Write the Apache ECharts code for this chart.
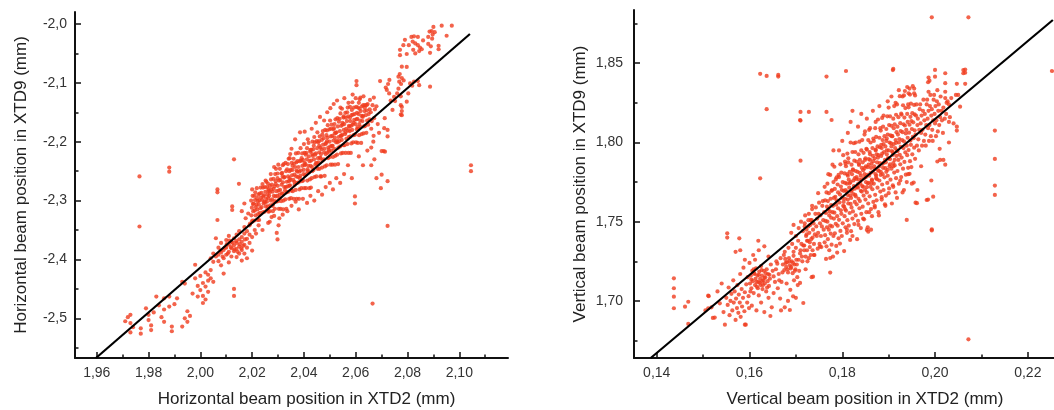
<!DOCTYPE html>
<html><head><meta charset="utf-8">
<script src="https://cdn.jsdelivr.net/npm/echarts@6/dist/echarts.min.js"></script>
<style>html,body{margin:0;padding:0;background:#fff}#c{width:1054px;height:410px}</style>
</head><body><div id="c"></div>
<script>
// ---------- tick values ----------
const hxMajor=[1.96,1.98,2.00,2.02,2.04,2.06,2.08,2.10];
const hxMinor=[1.97,1.99,2.01,2.03,2.05,2.07,2.09,2.11];
const hyMajor=[-2.5,-2.4,-2.3,-2.2,-2.1,-2.0];
const hyMinor=[-2.55,-2.45,-2.35,-2.25,-2.15,-2.05];
const vxMajor=[0.14,0.16,0.18,0.20,0.22];
const vxMinor=[0.15,0.17,0.19,0.21,0.23];
const vyMajor=[1.70,1.75,1.80,1.85];
const vyMinor=[1.675,1.725,1.775,1.825,1.875];

// ---------- fitted lines ----------
const hFit=[[1.9597,-2.5674],[2.1041,-2.017]];
const vFit=[[0.1387,1.664],[0.2254,1.8773]];

// ---------- horizontal panel points ----------
const hOutliers=[[1.9765,-2.259],[1.9765,-2.344],[1.988,-2.244],[1.988,-2.251],[2.1045,-2.240],[2.1045,-2.250],[2.0665,-2.475],[2.0723,-2.343],[2.0694,-2.097]];
const hTail=[[1.971,-2.505],[1.972,-2.498],[1.973,-2.494],[1.973,-2.508],[1.973,-2.524],[1.974,-2.515],[1.977,-2.517],[1.977,-2.526],[1.979,-2.483],[1.980,-2.494],[1.980,-2.503],[1.981,-2.520],[1.981,-2.512],[1.982,-2.490],[1.983,-2.463],[1.984,-2.478],[1.985,-2.498],[1.986,-2.466],[1.986,-2.485],[1.986,-2.506],[1.988,-2.463],[1.988,-2.480],[1.989,-2.514],[1.989,-2.522],[1.990,-2.476],[1.991,-2.466],[1.993,-2.438],[1.993,-2.514],[1.994,-2.441],[1.994,-2.500],[1.995,-2.488],[1.995,-2.506],[1.996,-2.496],[1.997,-2.458],[1.998,-2.409],[1.998,-2.432],[1.999,-2.463],[1.999,-2.445],[2.000,-2.428],[2.000,-2.452],[2.001,-2.474],[2.001,-2.440],[2.001,-2.462],[2.002,-2.446],[2.002,-2.468],[2.002,-2.422],[2.003,-2.426],[2.003,-2.436],[2.003,-2.455],[2.004,-2.398],[2.004,-2.432],[2.004,-2.418],[2.005,-2.438],[2.005,-2.390],[2.005,-2.404],[2.006,-2.364],[2.0066,-2.333],[2.006,-2.395],[2.007,-2.380],[2.007,-2.392],[2.007,-2.403],[2.008,-2.372],[2.008,-2.388],[2.008,-2.410],[2.009,-2.424],[2.009,-2.384],[2.009,-2.398],[2.010,-2.367],[2.010,-2.380],[2.010,-2.392],[2.011,-2.360],[2.011,-2.375],[2.011,-2.387],[2.011,-2.405],[2.012,-2.370],[2.012,-2.381],[2.012,-2.395],[2.013,-2.364],[2.013,-2.376],[2.013,-2.386],[2.013,-2.450],[2.013,-2.462],[2.014,-2.358],[2.014,-2.372],[2.014,-2.382],[2.014,-2.396],[2.015,-2.366],[2.015,-2.378],[2.015,-2.390],[2.015,-2.352],[2.016,-2.370],[2.016,-2.384],[2.016,-2.362],[2.016,-2.402],[2.017,-2.356],[2.017,-2.375],[2.017,-2.390],[2.017,-2.345],[2.018,-2.365],[2.018,-2.380],[2.018,-2.398],[2.018,-2.352],[2.019,-2.358],[2.019,-2.372],[2.019,-2.342],[2.020,-2.362],[2.020,-2.385],[2.020,-2.336],[2.021,-2.350],[2.0225,-2.342],[2.024,-2.350],[2.0262,-2.338],[2.0295,-2.355],[2.0298,-2.366],[2.0275,-2.328],[2.0215,-2.356],[2.016,-2.318],[2.0175,-2.330],[2.0185,-2.322],[2.0192,-2.339],[2.017,-2.305],[2.0123,-2.310],[2.0123,-2.316],[2.0149,-2.2715],[2.0066,-2.281],[2.0066,-2.286],[2.013,-2.230],
[2.0112,-2.368],[2.0118,-2.379],[2.0125,-2.372],[2.0132,-2.383],[2.0138,-2.369],[2.0144,-2.387],[2.0152,-2.374],[2.0158,-2.381],[2.0165,-2.377],[2.0172,-2.366],[2.0106,-2.390],[2.0102,-2.374],[2.0094,-2.380],[2.0086,-2.395],[2.0078,-2.385]];
const hCore=[
[2.0201,-2.334],[2.0197,-2.325],[2.0204,-2.318],[2.0199,-2.312],[2.0203,-2.306],[2.0196,-2.300],[2.0202,-2.292],[2.0200,-2.281],
[2.0208,-2.334],[2.0213,-2.325],[2.0210,-2.317],[2.0214,-2.311],[2.0206,-2.305],[2.0211,-2.299],[2.0209,-2.292],[2.0212,-2.286],
[2.0223,-2.323],[2.0220,-2.315],[2.0217,-2.307],[2.0222,-2.301],[2.0219,-2.296],[2.0224,-2.290],[2.0218,-2.279],[2.0221,-2.333],
[2.0230,-2.321],[2.0232,-2.313],[2.0226,-2.307],[2.0228,-2.300],[2.0234,-2.295],[2.0229,-2.288],[2.0233,-2.278],[2.0227,-2.333],
[2.0241,-2.320],[2.0237,-2.311],[2.0244,-2.305],[2.0239,-2.299],[2.0243,-2.293],[2.0236,-2.287],[2.0242,-2.278],[2.0240,-2.272],
[2.0248,-2.319],[2.0253,-2.310],[2.0250,-2.303],[2.0254,-2.297],[2.0246,-2.291],[2.0251,-2.285],[2.0249,-2.277],[2.0252,-2.266],
[2.0263,-2.319],[2.0260,-2.310],[2.0257,-2.302],[2.0262,-2.296],[2.0259,-2.290],[2.0264,-2.284],[2.0258,-2.277],[2.0261,-2.271],
[2.0270,-2.308],[2.0272,-2.300],[2.0266,-2.292],[2.0268,-2.286],[2.0274,-2.281],[2.0269,-2.275],[2.0273,-2.264],[2.0267,-2.318],
[2.0281,-2.306],[2.0277,-2.298],[2.0284,-2.292],[2.0279,-2.285],[2.0283,-2.280],[2.0276,-2.273],[2.0282,-2.263],[2.0280,-2.318],
[2.0288,-2.314],[2.0293,-2.302],[2.0290,-2.293],[2.0294,-2.284],[2.0286,-2.276],[2.0291,-2.267],[2.0289,-2.255],[2.0292,-2.246],
[2.0303,-2.314],[2.0300,-2.301],[2.0297,-2.292],[2.0302,-2.283],[2.0299,-2.275],[2.0304,-2.266],[2.0298,-2.254],[2.0301,-2.239],
[2.0310,-2.314],[2.0312,-2.301],[2.0306,-2.290],[2.0308,-2.282],[2.0314,-2.273],[2.0309,-2.265],[2.0313,-2.254],[2.0307,-2.246],
[2.0321,-2.300],[2.0317,-2.288],[2.0324,-2.277],[2.0319,-2.269],[2.0323,-2.261],[2.0316,-2.253],[2.0322,-2.238],[2.0320,-2.315],
[2.0328,-2.298],[2.0333,-2.286],[2.0330,-2.277],[2.0334,-2.268],[2.0326,-2.260],[2.0331,-2.250],[2.0329,-2.236],[2.0332,-2.314],
[2.0343,-2.297],[2.0340,-2.285],[2.0337,-2.276],[2.0342,-2.267],[2.0339,-2.259],[2.0344,-2.250],[2.0338,-2.238],[2.0341,-2.229],
[2.0350,-2.296],[2.0352,-2.283],[2.0346,-2.274],[2.0348,-2.265],[2.0354,-2.257],[2.0349,-2.248],[2.0353,-2.236],[2.0347,-2.221],
[2.0361,-2.297],[2.0357,-2.284],[2.0364,-2.273],[2.0359,-2.265],[2.0363,-2.256],[2.0356,-2.248],[2.0362,-2.237],[2.0360,-2.229],
[2.0368,-2.282],[2.0373,-2.270],[2.0370,-2.259],[2.0374,-2.251],[2.0366,-2.243],[2.0371,-2.235],[2.0369,-2.220],[2.0372,-2.297],
[2.0383,-2.281],[2.0380,-2.269],[2.0377,-2.260],[2.0382,-2.251],[2.0379,-2.243],[2.0384,-2.233],[2.0378,-2.219],[2.0381,-2.297],
[2.0390,-2.279],[2.0392,-2.267],[2.0386,-2.258],[2.0388,-2.249],[2.0394,-2.241],[2.0389,-2.232],[2.0393,-2.220],[2.0387,-2.211],
[2.0401,-2.279],[2.0397,-2.266],[2.0404,-2.257],[2.0399,-2.248],[2.0403,-2.240],[2.0396,-2.231],[2.0402,-2.219],[2.0400,-2.204],
[2.0408,-2.279],[2.0413,-2.266],[2.0410,-2.255],[2.0414,-2.247],[2.0406,-2.238],[2.0411,-2.230],[2.0409,-2.219],[2.0412,-2.211],
[2.0423,-2.264],[2.0420,-2.252],[2.0417,-2.241],[2.0422,-2.233],[2.0419,-2.225],[2.0424,-2.217],[2.0418,-2.202],[2.0421,-2.279],
[2.0430,-2.262],[2.0432,-2.250],[2.0426,-2.241],[2.0428,-2.232],[2.0434,-2.224],[2.0429,-2.214],[2.0433,-2.200],[2.0427,-2.278],
[2.0441,-2.260],[2.0437,-2.248],[2.0444,-2.239],[2.0439,-2.230],[2.0443,-2.222],[2.0436,-2.213],[2.0442,-2.201],[2.0440,-2.192],
[2.0448,-2.259],[2.0453,-2.246],[2.0450,-2.237],[2.0454,-2.228],[2.0446,-2.220],[2.0451,-2.211],[2.0449,-2.199],[2.0452,-2.184],
[2.0463,-2.259],[2.0460,-2.246],[2.0457,-2.235],[2.0462,-2.227],[2.0459,-2.218],[2.0464,-2.210],[2.0458,-2.199],[2.0461,-2.191],
[2.0470,-2.244],[2.0472,-2.232],[2.0466,-2.221],[2.0468,-2.213],[2.0474,-2.205],[2.0469,-2.197],[2.0473,-2.182],[2.0467,-2.259],
[2.0481,-2.242],[2.0477,-2.230],[2.0484,-2.221],[2.0479,-2.212],[2.0483,-2.204],[2.0476,-2.194],[2.0482,-2.180],[2.0480,-2.258],
[2.0488,-2.240],[2.0493,-2.228],[2.0490,-2.219],[2.0494,-2.210],[2.0486,-2.202],[2.0491,-2.193],[2.0489,-2.181],[2.0492,-2.172],
[2.0503,-2.239],[2.0500,-2.226],[2.0497,-2.217],[2.0502,-2.208],[2.0499,-2.200],[2.0504,-2.191],[2.0498,-2.179],[2.0501,-2.164],
[2.0510,-2.239],[2.0512,-2.226],[2.0506,-2.215],[2.0508,-2.207],[2.0514,-2.198],[2.0509,-2.190],[2.0513,-2.179],[2.0507,-2.171],
[2.0521,-2.224],[2.0517,-2.212],[2.0524,-2.201],[2.0519,-2.193],[2.0523,-2.185],[2.0516,-2.177],[2.0522,-2.162],[2.0520,-2.239],
[2.0528,-2.222],[2.0533,-2.210],[2.0530,-2.201],[2.0534,-2.192],[2.0526,-2.184],[2.0531,-2.174],[2.0529,-2.160],[2.0532,-2.238],
[2.0543,-2.220],[2.0540,-2.208],[2.0537,-2.199],[2.0542,-2.190],[2.0539,-2.182],[2.0544,-2.173],[2.0538,-2.161],[2.0541,-2.152],
[2.0550,-2.219],[2.0552,-2.206],[2.0546,-2.197],[2.0548,-2.188],[2.0554,-2.180],[2.0549,-2.171],[2.0553,-2.159],[2.0547,-2.144],
[2.0561,-2.219],[2.0557,-2.206],[2.0564,-2.195],[2.0559,-2.187],[2.0563,-2.178],[2.0556,-2.170],[2.0562,-2.159],[2.0560,-2.151],
[2.0568,-2.204],[2.0573,-2.192],[2.0570,-2.181],[2.0574,-2.173],[2.0566,-2.165],[2.0571,-2.157],[2.0569,-2.142],[2.0572,-2.219],
[2.0583,-2.203],[2.0580,-2.191],[2.0577,-2.182],[2.0582,-2.173],[2.0579,-2.165],[2.0584,-2.155],[2.0578,-2.141],[2.0581,-2.219],
[2.0590,-2.201],[2.0592,-2.189],[2.0586,-2.180],[2.0588,-2.171],[2.0594,-2.163],[2.0589,-2.154],[2.0593,-2.142],[2.0587,-2.133],
[2.0601,-2.201],[2.0597,-2.188],[2.0604,-2.179],[2.0599,-2.170],[2.0603,-2.162],[2.0596,-2.153],[2.0602,-2.141],[2.0600,-2.126],
[2.0608,-2.202],[2.0613,-2.189],[2.0610,-2.178],[2.0614,-2.170],[2.0606,-2.161],[2.0611,-2.153],[2.0609,-2.142],[2.0612,-2.134],
[2.0623,-2.187],[2.0620,-2.175],[2.0617,-2.164],[2.0622,-2.156],[2.0619,-2.148],[2.0624,-2.140],[2.0618,-2.125],[2.0621,-2.202],
[2.0630,-2.186],[2.0632,-2.174],[2.0626,-2.165],[2.0628,-2.156],[2.0634,-2.148],[2.0629,-2.138],
[2.0641,-2.185],[2.0637,-2.173],[2.0644,-2.164],[2.0639,-2.155],[2.0643,-2.147],[2.0636,-2.138],
[2.0648,-2.171],[2.0653,-2.162],[2.0650,-2.153],[2.0654,-2.145],[2.0646,-2.136],
[2.0662,-2.165],[2.0658,-2.150],[2.0665,-2.138],[2.0660,-2.178],
[2.0671,-2.160],[2.0674,-2.145],[2.0669,-2.190]];
const hCoreExtra=[[2.0247,-2.302],[2.0263,-2.281],[2.0279,-2.309],[2.0291,-2.272],[2.0306,-2.296],[2.0318,-2.259],[2.0327,-2.283],[2.0335,-2.247],[2.0344,-2.275],[2.0356,-2.241],[2.0363,-2.268],[2.0375,-2.233],[2.0384,-2.262],[2.0391,-2.228],[2.0398,-2.255],[2.0407,-2.222],[2.0415,-2.250],[2.0425,-2.214],[2.0431,-2.243],[2.0438,-2.207],[2.0447,-2.236],[2.0455,-2.201],[2.0464,-2.228],[2.0471,-2.188],[2.0478,-2.218],[2.0487,-2.189],[2.0495,-2.214],[2.0504,-2.178],[2.0511,-2.207],[2.0518,-2.170],[2.0527,-2.198],[2.0535,-2.166],[2.0545,-2.190],[2.0553,-2.157],[2.0561,-2.184],[2.0567,-2.150],[2.0575,-2.175],[2.0585,-2.146],[2.0592,-2.168],[2.0605,-2.151],[2.0615,-2.144],[2.0627,-2.158],[2.0635,-2.142],[2.0258,-2.316],[2.0287,-2.301],[2.0315,-2.288],[2.0345,-2.262],[2.0372,-2.249],[2.0402,-2.236],[2.0432,-2.221],[2.0459,-2.207],[2.0489,-2.199],[2.0519,-2.186],[2.0549,-2.168],[2.0578,-2.159],[2.0607,-2.175]];
const hFringe=[[2.0255,-2.268],[2.0272,-2.255],[2.0285,-2.243],[2.0298,-2.262],[2.0318,-2.240],[2.0345,-2.228],[2.0352,-2.212],[2.0366,-2.196],[2.0385,-2.184],[2.0403,-2.183],[2.0415,-2.196],[2.0430,-2.178],[2.0446,-2.168],[2.0462,-2.158],[2.0478,-2.164],[2.0490,-2.150],[2.0502,-2.143],[2.0515,-2.136],[2.0528,-2.130],[2.0541,-2.142],[2.0556,-2.126],[2.0572,-2.134],[2.0588,-2.120],[2.0603,-2.097],[2.0603,-2.104],[2.0615,-2.128],[2.0630,-2.123],[2.0642,-2.138],[2.0655,-2.129],[2.0670,-2.125],
[2.0268,-2.336],[2.0285,-2.326],[2.0302,-2.342],[2.0305,-2.330],[2.0318,-2.324],[2.0336,-2.318],[2.0352,-2.309],[2.0368,-2.302],[2.0380,-2.315],[2.0396,-2.297],[2.0412,-2.304],[2.0425,-2.292],[2.0440,-2.300],[2.0455,-2.284],[2.0470,-2.290],[2.0484,-2.277],[2.0500,-2.270],[2.0512,-2.281],[2.0525,-2.262],[2.0540,-2.270],[2.0555,-2.255],[2.0570,-2.240],[2.0585,-2.262],[2.0597,-2.293],[2.0597,-2.305],[2.0612,-2.225],[2.0628,-2.240],[2.0645,-2.215],[2.0660,-2.210],[2.0672,-2.230],
[2.0697,-2.279],[2.0723,-2.267],[2.0700,-2.216],[2.0708,-2.216],[2.0723,-2.180],[2.0723,-2.191],[2.0742,-2.146],[2.0774,-2.123],[2.0774,-2.138],[2.0774,-2.154],[2.0729,-2.118],[2.0680,-2.140],[2.0685,-2.170],[2.0690,-2.185],[2.0668,-2.200],[2.0712,-2.160],[2.0735,-2.130],[2.0720,-2.112],[2.0725,-2.102],[2.0716,-2.108],[2.0730,-2.095],[2.0710,-2.177],[2.0713,-2.217],[2.0700,-2.256],[2.0680,-2.262],[2.0660,-2.240]];
const hUpper=[[2.0900,-2.005],[2.0932,-2.003],[2.0971,-2.003],[2.0885,-2.013],[2.0893,-2.012],[2.0897,-2.018],[2.0905,-2.014],[2.0880,-2.022],[2.0895,-2.025],[2.0951,-2.020],[2.0815,-2.022],[2.0825,-2.021],[2.0840,-2.022],[2.0820,-2.030],[2.0830,-2.033],[2.0790,-2.027],[2.0784,-2.036],[2.0805,-2.036],[2.0840,-2.036],[2.0848,-2.040],[2.0855,-2.043],[2.0822,-2.044],[2.0771,-2.044],[2.0771,-2.053],[2.0797,-2.051],[2.0830,-2.050],[2.0887,-2.049],[2.0920,-2.037],[2.0920,-2.043],[2.0880,-2.034],[2.0890,-2.038],[2.0860,-2.028],[2.0845,-2.046],
[2.0778,-2.0725],[2.0797,-2.073],[2.0770,-2.085],[2.0778,-2.092],[2.0768,-2.098],[2.0775,-2.102],[2.0785,-2.096],[2.0810,-2.101],[2.0818,-2.105],[2.0825,-2.098],[2.0840,-2.097],[2.0845,-2.104],[2.0887,-2.1065],[2.0803,-2.118],[2.0797,-2.132],[2.0778,-2.141],[2.0778,-2.148],[2.0778,-2.155],[2.0765,-2.110],[2.0760,-2.118],[2.0765,-2.0895],[2.0748,-2.124],[2.0752,-2.131]];

// ---------- vertical panel points ----------
const vOutliers=[[0.1437,1.7143],[0.1437,1.7080],[0.1437,1.7027],[0.1437,1.6954],[0.1461,1.6964],[0.1468,1.6995],[0.1468,1.6855],[0.1623,1.8433],[0.1637,1.8420],[0.1662,1.8426],[0.1662,1.8416],[0.1637,1.8210],[0.1623,1.7774],[0.1808,1.8451],[0.1766,1.8416],[0.1909,1.8457],[0.1993,1.8790],[0.2072,1.8790],[0.2061,1.8457],[0.2061,1.8437],[0.2129,1.8075],[0.2129,1.7896],[0.2129,1.7728],[0.2129,1.7669],[0.2072,1.6758],[0.2252,1.8451],[0.1993,1.7452],[0.1993,1.7445],[0.1939,1.7511],[0.1774,1.7179],[0.1710,1.8193],[0.1728,1.8193],[0.1766,1.8193],[0.1710,1.8138],[0.1710,1.7885],[0.1552,1.7427],[0.1552,1.7400],[0.1511,1.7034],[0.1511,1.6954],[0.1521,1.6893],[0.1590,1.6850],[0.1578,1.7395],[0.1580,1.7320],[0.1853,1.7448],[0.1856,1.7437]];
const vLow=[[0.1505,1.6940],[0.1512,1.7030],[0.1518,1.6960],[0.1525,1.6895],[0.1531,1.7060],[0.1536,1.6985],[0.1540,1.7110],[0.1544,1.6930],[0.1547,1.6850],[0.1550,1.7020],[0.1553,1.6975],[0.1555,1.7085],[0.1557,1.6910],[0.1559,1.7000],[0.1561,1.7045],[0.1563,1.6940],[0.1565,1.7130],[0.1566,1.6990],[0.1568,1.7060],[0.1570,1.6880],[0.1571,1.7015],[0.1573,1.6955],[0.1574,1.7100],[0.1576,1.6925],[0.1577,1.7040],[0.1579,1.6990],[0.1580,1.7170],[0.1581,1.6900],[0.1583,1.7075],[0.1584,1.6965],[0.1586,1.7020],[0.1587,1.7210],[0.1589,1.6935],[0.1590,1.7055],[0.1592,1.6850],[0.1593,1.7105],[0.1595,1.6990],[0.1596,1.7150],[0.1598,1.7030],[0.1599,1.6955],
[0.1601,1.7110],[0.1603,1.7160],[0.1604,1.7080],[0.1606,1.7190],[0.1607,1.7125],[0.1609,1.7050],[0.1610,1.7175],[0.1612,1.7100],[0.1613,1.7140],[0.1614,1.7205],[0.1616,1.7090],[0.1617,1.7160],[0.1619,1.7120],[0.1620,1.7035],[0.1621,1.7185],[0.1623,1.7140],[0.1624,1.7100],[0.1625,1.7220],[0.1627,1.7160],[0.1628,1.7075],[0.1630,1.7130],[0.1631,1.7190],[0.1633,1.7110],[0.1634,1.7150],[0.1636,1.7060],[0.1637,1.7200],[0.1639,1.7125],[0.1640,1.7170],[0.1642,1.7095],[0.1644,1.7140],
[0.1604,1.7135],[0.1611,1.7170],[0.1618,1.7080],[0.1622,1.7115],[0.1626,1.7195],[0.1629,1.7100],[0.1635,1.7175],[0.1638,1.7085],[0.1643,1.7165],[0.1615,1.7120],[0.1609,1.7200],[0.1632,1.7145],[0.1620,1.7165],[0.1627,1.7125],[0.1602,1.7060],
[0.1605,1.6970],[0.1615,1.6940],[0.1625,1.6990],[0.1632,1.6930],[0.1641,1.7020],[0.1648,1.6960],[0.1652,1.7050],[0.1646,1.7230],[0.1612,1.7260],[0.1620,1.7320],[0.1619,1.7380],[0.1608,1.7290],[0.1632,1.7345],[0.1641,1.7280],[0.1650,1.7190],[0.1655,1.7120],[0.1658,1.7250],[0.1661,1.7080],[0.1663,1.7170],[0.1666,1.7015],[0.1669,1.7120],
[0.1672,1.7230],[0.1675,1.7195],[0.1677,1.7265],[0.1679,1.7215],[0.1681,1.7245],[0.1683,1.7180],[0.1685,1.7270],[0.1687,1.7225],[0.1689,1.7205],[0.1691,1.7250],[0.1693,1.7175],[0.1695,1.7285],[0.1697,1.7230],[0.1699,1.7200],[0.1701,1.7260],[0.1703,1.7150],[0.1676,1.7310],[0.1684,1.7335],[0.1692,1.7360],[0.1680,1.7110],[0.1688,1.7070],[0.1696,1.7130],[0.1700,1.7020],[0.1668,1.6940],[0.1676,1.6960],[0.1683,1.7000],[0.1704,1.7100],[0.1707,1.7190],[0.1709,1.7300],[0.1705,1.7380],
[0.1652,1.7155],[0.1657,1.7200],[0.1660,1.7235],[0.1664,1.7130],[0.1667,1.7270],[0.1671,1.7180],[0.1674,1.7290],[0.1678,1.7240],[0.1682,1.7200],[0.1686,1.7250],[0.1690,1.7215],[0.1694,1.7240],[0.1698,1.7190],[0.1702,1.7230],[0.1706,1.7260],[0.1710,1.7320],[0.1713,1.7280],[0.1716,1.7350],[0.1700,1.7335],[0.1695,1.7310],
[0.1690,1.7430],[0.1695,1.7480],[0.1700,1.7410],[0.1706,1.7460],[0.1711,1.7500],[0.1715,1.7440],[0.1719,1.7490],[0.1723,1.7420],[0.1727,1.7470],[0.1732,1.7510],[0.1712,1.7360],[0.1718,1.7320],[0.1724,1.7380],[0.1730,1.7340],[0.1736,1.7400],[0.1714,1.7250],[0.1721,1.7200],[0.1728,1.7270],[0.1734,1.7150],[0.1739,1.7290],
[0.1716,1.6987],[0.1694,1.7029],[0.1774,1.7271],[0.1752,1.7343],[0.1737,1.7153],[0.1709,1.7114],[0.1687,1.6943],[0.1645,1.6905],[0.1570,1.7310],[0.1590,1.7260],[0.1600,1.7240]];
const vCore=[
[0.1721,1.728],[0.1718,1.735],[0.1722,1.741],[0.1719,1.747],[0.1720,1.754],
[0.1724,1.732],[0.1726,1.738],[0.1723,1.745],[0.1727,1.751],[0.1725,1.725],
[0.1732,1.729],[0.1730,1.737],[0.1729,1.743],[0.1731,1.748],[0.1728,1.755],
[0.1736,1.732],[0.1733,1.739],[0.1737,1.745],[0.1734,1.751],[0.1735,1.758],
[0.1739,1.736],[0.1741,1.742],[0.1738,1.749],[0.1742,1.755],[0.1740,1.729],
[0.1747,1.733],[0.1745,1.741],[0.1744,1.747],[0.1746,1.752],[0.1743,1.759],
[0.1751,1.736],[0.1748,1.743],[0.1752,1.749],[0.1749,1.755],[0.1750,1.762],
[0.1754,1.741],[0.1756,1.747],[0.1753,1.754],[0.1757,1.760],[0.1755,1.734],
[0.1762,1.737],[0.1760,1.745],[0.1759,1.751],[0.1761,1.756],[0.1758,1.763],
[0.1766,1.7345],[0.1763,1.7415],[0.1767,1.7465],[0.1764,1.7505],[0.1765,1.7555],[0.1767,1.7595],[0.1763,1.7635],[0.1766,1.7685],[0.1765,1.7265],
[0.1769,1.7390],[0.1771,1.7450],[0.1768,1.7500],[0.1772,1.7540],[0.1770,1.7580],[0.1769,1.7630],[0.1771,1.7680],[0.1768,1.7740],[0.1772,1.7320],
[0.1777,1.7355],[0.1775,1.7425],[0.1774,1.7475],[0.1776,1.7525],[0.1773,1.7565],[0.1776,1.7605],[0.1775,1.7645],[0.1777,1.7695],[0.1774,1.7795],
[0.1781,1.7410],[0.1778,1.7470],[0.1782,1.7520],[0.1779,1.7560],[0.1780,1.7600],[0.1782,1.7650],[0.1778,1.7700],[0.1781,1.7750],[0.1780,1.7280],
[0.1784,1.7427],[0.1786,1.7487],[0.1783,1.7557],[0.1787,1.7607],[0.1785,1.7657],[0.1784,1.7707],[0.1786,1.7767],[0.1783,1.7847],[0.1787,1.7347],
[0.1792,1.7395],[0.1790,1.7475],[0.1789,1.7535],[0.1791,1.7585],[0.1788,1.7635],[0.1791,1.7685],[0.1790,1.7735],[0.1792,1.7795],[0.1789,1.7305],
[0.1796,1.7442],[0.1793,1.7512],[0.1797,1.7572],[0.1794,1.7622],[0.1795,1.7672],[0.1797,1.7722],[0.1793,1.7782],[0.1796,1.7862],[0.1795,1.7362],
[0.1799,1.7410],[0.1801,1.7490],[0.1798,1.7550],[0.1802,1.7600],[0.1800,1.7650],[0.1799,1.7700],[0.1801,1.7750],[0.1798,1.7810],[0.1802,1.7920],
[0.1807,1.7465],[0.1805,1.7535],[0.1804,1.7595],[0.1806,1.7645],[0.1803,1.7695],[0.1806,1.7745],[0.1805,1.7805],[0.1807,1.7865],[0.1804,1.7315],
[0.1811,1.7510],[0.1808,1.7570],[0.1812,1.7640],[0.1809,1.7690],[0.1810,1.7740],[0.1812,1.7790],[0.1808,1.7850],[0.1811,1.7930],[0.1810,1.7430],
[0.1814,1.7475],[0.1816,1.7555],[0.1813,1.7615],[0.1817,1.7665],[0.1815,1.7715],[0.1814,1.7765],[0.1816,1.7815],[0.1813,1.7875],[0.1817,1.7385],
[0.1822,1.7520],[0.1820,1.7590],[0.1819,1.7650],[0.1821,1.7700],[0.1818,1.7750],[0.1821,1.7800],[0.1820,1.7860],[0.1822,1.7940],[0.1819,1.7440],
[0.1826,1.7485],[0.1823,1.7565],[0.1827,1.7625],[0.1824,1.7675],[0.1825,1.7725],[0.1827,1.7775],[0.1823,1.7825],[0.1826,1.7885],[0.1825,1.7995],
[0.1829,1.7540],[0.1831,1.7610],[0.1828,1.7670],[0.1832,1.7720],[0.1830,1.7770],[0.1829,1.7820],[0.1831,1.7880],[0.1828,1.7940],[0.1832,1.7390],
[0.1837,1.7585],[0.1835,1.7645],[0.1834,1.7715],[0.1836,1.7765],[0.1833,1.7815],[0.1836,1.7865],[0.1835,1.7925],[0.1837,1.8005],[0.1834,1.7505],
[0.1841,1.7550],[0.1838,1.7630],[0.1842,1.7690],[0.1839,1.7740],[0.1840,1.7790],[0.1842,1.7840],[0.1838,1.7890],[0.1841,1.7950],[0.1840,1.7460],
[0.1844,1.7595],[0.1846,1.7665],[0.1843,1.7725],[0.1847,1.7775],[0.1845,1.7825],[0.1844,1.7875],[0.1846,1.7935],[0.1843,1.8015],[0.1847,1.7515],
[0.1852,1.7560],[0.1850,1.7640],[0.1849,1.7700],[0.1851,1.7750],[0.1848,1.7800],[0.1851,1.7850],[0.1850,1.7900],[0.1852,1.7960],[0.1849,1.8070],
[0.1856,1.7615],[0.1853,1.7685],[0.1857,1.7745],[0.1854,1.7795],[0.1855,1.7845],[0.1857,1.7895],[0.1853,1.7955],[0.1856,1.8015],[0.1855,1.7465],
[0.1859,1.7660],[0.1861,1.7720],[0.1858,1.7790],[0.1862,1.7840],[0.1860,1.7890],[0.1859,1.7940],[0.1861,1.8000],[0.1858,1.8080],[0.1862,1.7580],
[0.1867,1.7625],[0.1865,1.7705],[0.1864,1.7765],[0.1866,1.7815],[0.1863,1.7865],[0.1866,1.7915],[0.1865,1.7965],[0.1867,1.8025],[0.1864,1.7535],
[0.1871,1.7670],[0.1868,1.7740],[0.1872,1.7800],[0.1869,1.7850],[0.1870,1.7900],[0.1872,1.7950],[0.1868,1.8010],[0.1871,1.8090],[0.1870,1.7590],
[0.1874,1.7635],[0.1876,1.7715],[0.1873,1.7775],[0.1877,1.7825],[0.1875,1.7875],[0.1874,1.7925],[0.1876,1.7975],[0.1873,1.8035],[0.1877,1.8145],
[0.1882,1.7690],[0.1880,1.7760],[0.1879,1.7820],[0.1881,1.7870],[0.1878,1.7920],[0.1881,1.7970],[0.1880,1.8030],[0.1882,1.8090],[0.1879,1.7540],
[0.1886,1.7735],[0.1883,1.7795],[0.1887,1.7865],[0.1884,1.7915],[0.1885,1.7965],[0.1887,1.8015],[0.1883,1.8075],[0.1886,1.8155],[0.1885,1.7655],
[0.1889,1.7700],[0.1891,1.7780],[0.1888,1.7840],[0.1892,1.7890],[0.1890,1.7940],[0.1889,1.7990],[0.1891,1.8040],[0.1888,1.8100],[0.1892,1.7610],
[0.1897,1.7745],[0.1895,1.7815],[0.1894,1.7875],[0.1896,1.7925],[0.1893,1.7975],[0.1896,1.8025],[0.1895,1.8085],[0.1897,1.8165],[0.1894,1.7665],
[0.1901,1.7710],[0.1898,1.7790],[0.1902,1.7850],[0.1899,1.7900],[0.1900,1.7950],[0.1902,1.8000],[0.1898,1.8050],[0.1901,1.8110],[0.1900,1.8220],
[0.1904,1.7765],[0.1906,1.7835],[0.1903,1.7895],[0.1907,1.7945],[0.1905,1.7995],[0.1904,1.8045],[0.1906,1.8105],[0.1903,1.8165],[0.1907,1.7615],
[0.1912,1.7810],[0.1910,1.7870],[0.1909,1.7940],[0.1911,1.7990],[0.1908,1.8040],[0.1911,1.8090],[0.1910,1.8150],[0.1912,1.8230],[0.1909,1.7730],
[0.1916,1.7775],[0.1913,1.7855],[0.1917,1.7915],[0.1914,1.7965],[0.1915,1.8015],[0.1917,1.8065],[0.1913,1.8115],[0.1916,1.8175],[0.1915,1.7685],
[0.1919,1.7820],[0.1921,1.7890],[0.1918,1.7950],[0.1922,1.8000],[0.1920,1.8050],[0.1919,1.8100],[0.1921,1.8160],[0.1918,1.8240],[0.1922,1.7740],
[0.1927,1.7782],[0.1925,1.7862],[0.1924,1.7922],[0.1926,1.7972],[0.1923,1.8022],[0.1926,1.8072],[0.1925,1.8122],[0.1927,1.8182],[0.1924,1.8292],
[0.1931,1.7835],[0.1928,1.7905],[0.1932,1.7965],[0.1929,1.8015],[0.1930,1.8065],[0.1932,1.8115],[0.1928,1.8175],[0.1931,1.8235],[0.1930,1.7685],
[0.1934,1.7877],[0.1936,1.7937],[0.1933,1.8007],[0.1937,1.8057],[0.1935,1.8107],[0.1934,1.8157],[0.1936,1.8217],[0.1933,1.8297],[0.1937,1.7797],
[0.1942,1.7840],[0.1940,1.7920],[0.1939,1.7980],[0.1941,1.8030],[0.1938,1.8080],[0.1941,1.8130],[0.1940,1.8180],[0.1942,1.8240],[0.1939,1.7750],
[0.1946,1.7882],[0.1943,1.7952],[0.1947,1.8012],[0.1944,1.8062],[0.1945,1.8112],[0.1947,1.8162],[0.1943,1.8222],[0.1946,1.8302],[0.1945,1.7802],
[0.1949,1.7845],[0.1951,1.7925],[0.1948,1.7985],[0.1952,1.8035],[0.1950,1.8085],[0.1949,1.8135],[0.1951,1.8185],[0.1948,1.8245],[0.1952,1.8355],
[0.1957,1.7897],[0.1955,1.7967],[0.1954,1.8027],[0.1956,1.8077],[0.1953,1.8127],[0.1956,1.8177],[0.1955,1.8237],[0.1957,1.8297],[0.1954,1.7747],
[0.1961,1.798],[0.1958,1.805],[0.1962,1.811],[0.1959,1.817],[0.1960,1.824],
[0.1964,1.802],[0.1966,1.808],[0.1963,1.815],[0.1967,1.821],[0.1965,1.795],
[0.1972,1.798],[0.1970,1.806],[0.1969,1.812],[0.1971,1.817],[0.1968,1.824],
[0.1976,1.801],[0.1973,1.808],[0.1977,1.814],[0.1974,1.820],[0.1975,1.827],
[0.1979,1.805],[0.1981,1.811],[0.1978,1.818],[0.1982,1.824],[0.1980,1.798],
[0.1987,1.801],[0.1985,1.809],[0.1984,1.815],[0.1986,1.820],[0.1983,1.827],
[0.1991,1.804],[0.1988,1.811],[0.1992,1.817],[0.1989,1.823],[0.1990,1.830],
[0.1994,1.808],[0.1996,1.814],[0.1993,1.821],[0.1997,1.827],[0.1995,1.801],
[0.2002,1.804],[0.2000,1.812],[0.1999,1.818],[0.2001,1.823],[0.1998,1.830],
[0.2006,1.807],[0.2003,1.814],[0.2007,1.820],[0.2004,1.826],
[0.2009,1.811],[0.2011,1.816],[0.2008,1.824],[0.2012,1.829],
[0.2017,1.806],[0.2015,1.814],[0.2014,1.820],
[0.2021,1.815],[0.2018,1.822],[0.2022,1.828],
[0.2024,1.818],[0.2027,1.826],[0.2032,1.816],[0.2030,1.824]];
const vCoreExtra=[[0.1803,1.7625],[0.1807,1.7700],[0.1812,1.7668],[0.1816,1.7742],[0.1819,1.7690],[0.1824,1.7760],[0.1827,1.7708],[0.1831,1.7782],[0.1834,1.7738],[0.1838,1.7808],[0.1842,1.7765],[0.1845,1.7720],[0.1848,1.7838],[0.1851,1.7782],[0.1855,1.7742],[0.1857,1.7860],[0.1861,1.7808],[0.1864,1.7760],[0.1867,1.7882],[0.1870,1.7832],[0.1873,1.7790],[0.1877,1.7905],[0.1880,1.7850],[0.1883,1.7815],[0.1886,1.7930],[0.1889,1.7872],[0.1893,1.7838],[0.1896,1.7950],[0.1899,1.7900],[0.1903,1.7862],[0.1906,1.7975],[0.1909,1.7922],[0.1913,1.7890],[0.1916,1.7998],[0.1919,1.7945],[0.1806,1.7580],[0.1818,1.7612],[0.1829,1.7660],[0.1840,1.7695],[0.1853,1.7718],[0.1863,1.7742],[0.1875,1.7768],[0.1887,1.7800],[0.1898,1.7828],[0.1910,1.7850],[0.1811,1.7800],[0.1823,1.7830],[0.1836,1.7858],[0.1849,1.7890],[0.1860,1.7925],[0.1872,1.7955],[0.1884,1.7985],[0.1895,1.8010],[0.1907,1.8040]];
const vFringe=[[0.1735,1.7600],[0.1748,1.7680],[0.1762,1.7720],[0.1770,1.7800],[0.1779,1.7860],[0.1788,1.7780],[0.1793,1.7950],[0.1800,1.8010],[0.1806,1.7880],[0.1812,1.8060],[0.1818,1.8130],[0.1822,1.8200],[0.1829,1.8000],[0.1834,1.8100],[0.1841,1.8180],[0.1848,1.8050],[0.1853,1.8150],[0.1860,1.8090],[0.1866,1.8200],[0.1872,1.8130],[0.1880,1.8230],[0.1889,1.8170],[0.1898,1.8260],[0.1906,1.8290],[0.1915,1.8250],[0.1922,1.8330],[0.1930,1.8290],[0.1940,1.8350],[0.1709,1.8142],[0.1777,1.8142],[0.1781,1.7950],[0.1813,1.7900],[0.1818,1.8000],
[0.1810,1.7450],[0.1822,1.7410],[0.1835,1.7480],[0.1845,1.7520],[0.1858,1.7560],[0.1862,1.7450],[0.1870,1.7600],[0.1878,1.7560],[0.1885,1.7640],[0.1893,1.7600],[0.1900,1.7680],[0.1910,1.7720],[0.1918,1.7650],[0.1925,1.7760],[0.1933,1.7700],[0.1942,1.7800],[0.1950,1.7740],[0.1958,1.7620],[0.1962,1.7700],[0.1970,1.7850],[0.1985,1.7640],[0.1992,1.7760],[0.2005,1.7880],[0.2018,1.7890],[0.2022,1.7860],[0.2010,1.7960],[0.2030,1.8000],[0.2047,1.8075],[0.2040,1.8120],[0.2030,1.8130],[0.2025,1.8250],[0.2035,1.8280],[0.2045,1.8300],[0.1982,1.7637],[0.1996,1.7658],[0.1961,1.7617],[0.2047,1.8100],[0.2054,1.8226],[0.2011,1.7890],
[0.1910,1.8464],[0.2000,1.8458],[0.2000,1.8415],[0.2022,1.8437],[0.2022,1.8374],[0.2047,1.8370],[0.2065,1.8460],[0.2065,1.8440],[0.2065,1.8370],[0.1986,1.8410],[0.1988,1.8390],[0.1985,1.8380],[0.1945,1.8340],[0.1955,1.8340],[0.1935,1.8325],[0.1943,1.8310],[0.1955,1.8310],[0.1986,1.8320],[0.2005,1.8330],[0.2022,1.8320],[0.2050,1.8300]];

// ---------- chart ----------
const FONT='"Liberation Sans", Arial, sans-serif';
const DOT='#f03c1e';
function fmt(dec){return v=>Number(v).toFixed(dec).replace('.',',');}
function mainAxis(gi,min,max,major,dec,name,pos,gap,pad,margin){
  return {type:'value',gridIndex:gi,min:min,max:max,position:pos,
    name:name,nameLocation:'middle',nameGap:gap,
    nameTextStyle:{fontSize:17,color:'#222',fontFamily:FONT,padding:pad},
    axisLine:{show:true,onZero:false,lineStyle:{color:'#111',width:2}},
    axisTick:{show:true,inside:true,length:6,customValues:major,lineStyle:{color:'#111',width:1.5}},
    axisLabel:{show:true,customValues:major,formatter:fmt(dec),fontSize:14,color:'#333',fontFamily:FONT,margin:margin},
    splitLine:{show:false},minorTick:{show:false}};
}
function minorAxis(gi,min,max,minor,pos){
  return {type:'value',gridIndex:gi,min:min,max:max,position:pos,
    axisLine:{show:false,onZero:false},
    axisTick:{show:true,inside:true,length:3.5,customValues:minor,lineStyle:{color:'#111',width:1.5}},
    axisLabel:{show:false},splitLine:{show:false}};
}
const chart=echarts.init(document.getElementById('c'),null,{renderer:'canvas'});
chart.setOption({
  animation:false,
  backgroundColor:'#fff',
  grid:[{left:75,top:12,width:433,height:346,containLabel:false,outerBoundsMode:'none'},
        {left:634,top:10,width:449,height:348,containLabel:false,outerBoundsMode:'none'}],
  xAxis:[
    mainAxis(0,1.9516,2.1188,hxMajor,2,'Horizontal beam position in XTD2 (mm)','bottom',33,[0,0,0,30],8),
    minorAxis(0,1.9516,2.1188,hxMinor,'bottom'),
    mainAxis(1,0.1351,0.2319,vxMajor,2,'Vertical beam position in XTD2 (mm)','bottom',33,[0,0,0,13],8),
    minorAxis(1,0.1351,0.2319,vxMinor,'bottom')
  ],
  yAxis:[
    mainAxis(0,-2.5674,-1.9797,hyMajor,1,'Horizontal beam position in XTD9 (mm)','left',45,0,8),
    minorAxis(0,-2.5674,-1.9797,hyMinor,'left'),
    mainAxis(1,1.664,1.8836,vyMajor,2,'Vertical beam position in XTD9 (mm)','left',45,0,11),
    minorAxis(1,1.664,1.8836,vyMinor,'left')
  ],
  series:[
    {type:'scatter',xAxisIndex:0,yAxisIndex:0,symbol:'circle',symbolSize:4.2,silent:true,
     itemStyle:{color:DOT},data:[].concat(hOutliers,hTail,hCore,hCoreExtra,hFringe,hUpper)},
    {type:'line',xAxisIndex:0,yAxisIndex:0,symbol:'none',silent:true,z:5,
     lineStyle:{color:'#000',width:2.2},data:hFit},
    {type:'scatter',xAxisIndex:2,yAxisIndex:2,symbol:'circle',symbolSize:4.2,silent:true,
     itemStyle:{color:DOT},data:[].concat(vOutliers,vLow,vCore,vCoreExtra,vFringe)},
    {type:'line',xAxisIndex:2,yAxisIndex:2,symbol:'none',silent:true,z:5,
     lineStyle:{color:'#000',width:2.2},data:vFit}
  ]
});
</script></body></html>
